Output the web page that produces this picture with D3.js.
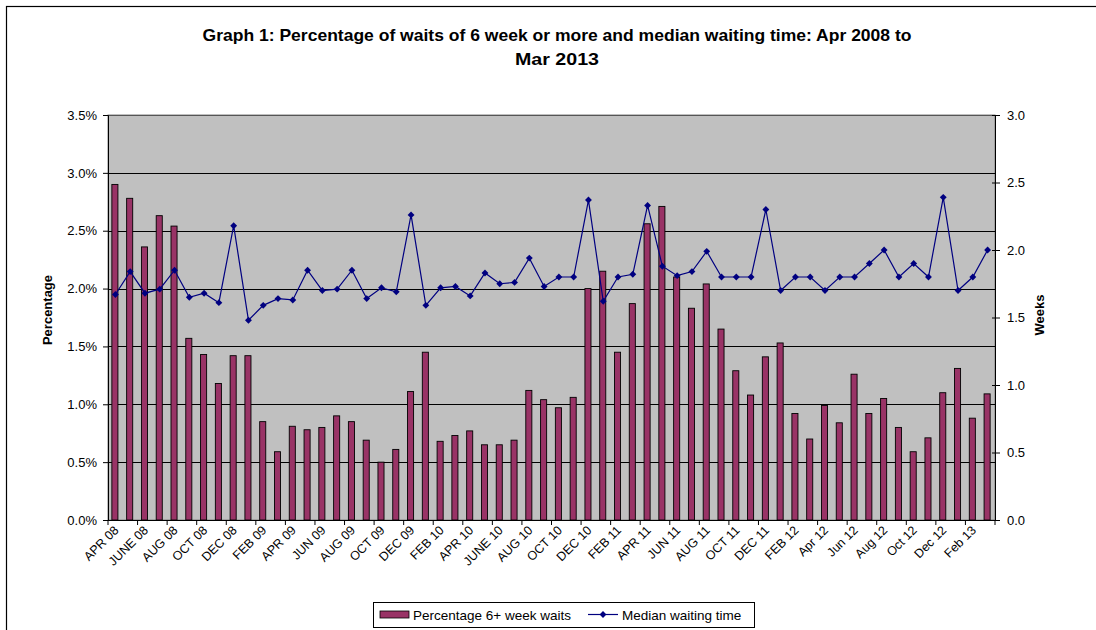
<!DOCTYPE html>
<html>
<head>
<meta charset="utf-8">
<script src="https://cdn.jsdelivr.net/npm/d3@7"></script>
<style>
  html, body { margin: 0; padding: 0; background: #fff; }
  svg { display: block; font-family: "Liberation Sans", Arial, sans-serif; }
</style>
</head>
<body>
<svg id="chart" width="1096" height="630"></svg>
<script>
const months = [
  "APR 08","MAY 08","JUNE 08","JUL 08","AUG 08","SEP 08","OCT 08","NOV 08","DEC 08","JAN 09",
  "FEB 09","MAR 09","APR 09","MAY 09","JUN 09","JUL 09","AUG 09","SEP 09","OCT 09","NOV 09",
  "DEC 09","JAN 10","FEB 10","MAR 10","APR 10","MAY 10","JUNE 10","JUL 10","AUG 10","SEP 10",
  "OCT 10","NOV 10","DEC 10","JAN 11","FEB 11","MAR 11","APR 11","MAY 11","JUN 11","JUL 11",
  "AUG 11","SEP 11","OCT 11","NOV 11","DEC 11","JAN 12","FEB 12","Mar 12","Apr 12","May 12",
  "Jun 12","Jul 12","Aug 12","Sep 12","Oct 12","Nov 12","Dec 12","Jan 13","Feb 13","Mar 13"
];
const tickLabels = [
  "APR 08","JUNE 08","AUG 08","OCT 08","DEC 08","FEB 09","APR 09","JUN 09","AUG 09","OCT 09",
  "DEC 09","FEB 10","APR 10","JUNE 10","AUG 10","OCT 10","DEC 10","FEB 11","APR 11","JUN 11",
  "AUG 11","OCT 11","DEC 11","FEB 12","Apr 12","Jun 12","Aug 12","Oct 12","Dec 12","Feb 13"
];
// Percentage of waits of 6 weeks or more (%)
const pctWaits = [
  2.90,2.78,2.36,2.63,2.54,1.57,1.43,1.18,1.42,1.42,
  0.85,0.59,0.81,0.78,0.80,0.90,0.85,0.69,0.50,0.61,
  1.11,1.45,0.68,0.73,0.77,0.65,0.65,0.69,1.12,1.04,
  0.97,1.06,2.00,2.15,1.45,1.87,2.56,2.71,2.10,1.83,
  2.04,1.65,1.29,1.08,1.41,1.53,0.92,0.70,0.99,0.84,
  1.26,0.92,1.05,0.80,0.59,0.71,1.10,1.31,0.88,1.09
];
// Median waiting time (weeks)
const medianWeeks = [
  1.67,1.84,1.68,1.71,1.85,1.65,1.68,1.61,2.18,1.48,
  1.59,1.64,1.63,1.85,1.70,1.71,1.85,1.64,1.72,1.69,
  2.26,1.59,1.72,1.73,1.66,1.83,1.75,1.76,1.94,1.73,
  1.80,1.80,2.37,1.62,1.80,1.82,2.33,1.88,1.81,1.84,
  1.99,1.80,1.80,1.80,2.30,1.70,1.80,1.80,1.70,1.80,
  1.80,1.90,2.00,1.80,1.90,1.80,2.39,1.70,1.80,2.00
];
const leftTicks = [0,0.5,1.0,1.5,2.0,2.5,3.0,3.5];
const rightTicks = [0,0.5,1.0,1.5,2.0,2.5,3.0];

const svg = d3.select("#chart");
const L = 108, R = 995, T = 115, B = 520;

// outer frame
svg.append("rect").attr("x",6.5).attr("y",6.5).attr("width",1100).attr("height",640)
  .attr("fill","none").attr("stroke","#000").attr("stroke-width",1.2);

const x = d3.scaleBand().domain(months).range([L,R]).padding(0);
const yL = d3.scaleLinear().domain([0,3.5]).range([B,T]);
const yR = d3.scaleLinear().domain([0,3.0]).range([B,T]);

// plot area
svg.append("rect").attr("x",L).attr("y",T).attr("width",R-L).attr("height",B-T)
  .attr("fill","#C0C0C0").attr("stroke","#808080").attr("stroke-width",1);

// gridlines
svg.append("g").selectAll("line").data(leftTicks.filter(d=>d>0 && d<3.5)).join("line")
  .attr("x1",L).attr("x2",R).attr("y1",d=>Math.round(yL(d))+0.5).attr("y2",d=>Math.round(yL(d))+0.5)
  .attr("stroke","#000").attr("stroke-width",1);
svg.append("line").attr("x1",L).attr("x2",R).attr("y1",T+0.5).attr("y2",T+0.5)
  .attr("stroke","#555").attr("stroke-width",1.2);

// bars
const bw = x.bandwidth()*0.41;
svg.append("g").selectAll("rect").data(pctWaits).join("rect")
  .attr("x",(d,i)=>x(months[i]) + (x.bandwidth()-bw)/2 - 0.5)
  .attr("y",d=>yL(d))
  .attr("width",bw)
  .attr("height",d=>B-yL(d))
  .attr("fill","#993366").attr("stroke","#000").attr("stroke-width",0.9);

// line
const line = d3.line().x((d,i)=>x(months[i])+x.bandwidth()/2).y(d=>yR(d));
svg.append("path").datum(medianWeeks).attr("d",line)
  .attr("fill","none").attr("stroke","#000080").attr("stroke-width",1.2);
svg.append("g").selectAll("path").data(medianWeeks).join("path")
  .attr("d",d3.symbol(d3.symbolDiamond2, 30))
  .attr("transform",(d,i)=>`translate(${x(months[i])+x.bandwidth()/2},${yR(d)})`)
  .attr("fill","#000080");

// left axis
const axL = d3.axisLeft(yL).tickValues(leftTicks).tickFormat(d=>d.toFixed(1)+"%").tickSize(5).tickPadding(6);
const gL = svg.append("g").attr("transform",`translate(${L},0)`).call(axL);
gL.select(".domain").attr("stroke","#000");
gL.selectAll("text").attr("font-size",13).attr("fill","#000").attr("font-family","Liberation Sans, Arial, sans-serif");

// right axis
const axR = d3.axisRight(yR).tickValues(rightTicks).tickFormat(d=>d.toFixed(1)).tickSize(5).tickPadding(7);
const gR = svg.append("g").attr("transform",`translate(${R},0)`).call(axR);
gR.select(".domain").attr("stroke","#000");
gR.selectAll(".tick line").attr("x1",-3);
gR.selectAll("text").attr("font-size",13).attr("fill","#000").attr("font-family","Liberation Sans, Arial, sans-serif");

// bottom axis
svg.append("line").attr("x1",L).attr("x2",R+5).attr("y1",B+0.5).attr("y2",B+0.5).attr("stroke","#000");
const tickPos = months.filter((m,i)=>i%2===0).map(m=>x(m)).concat([R]);
svg.append("g").selectAll("line").data(tickPos).join("line")
  .attr("x1",d=>d).attr("x2",d=>d).attr("y1",B).attr("y2",B+5).attr("stroke","#000");
svg.append("g").selectAll("text").data(tickLabels).join("text")
  .attr("transform",(d,i)=>`translate(${x(months[i*2])+x.bandwidth()/2+4},${B+11}) rotate(-45)`)
  .attr("text-anchor","end").attr("font-size",12.5).attr("fill","#000")
  .text(d=>d);

// axis titles
svg.append("text").attr("transform","translate(52,310) rotate(-90)")
  .attr("text-anchor","middle").attr("font-weight","bold").attr("font-size",13).text("Percentage");
svg.append("text").attr("transform","translate(1044,315) rotate(-90)")
  .attr("text-anchor","middle").attr("font-weight","bold").attr("font-size",13).text("Weeks");

// title
svg.append("text").attr("x",557).attr("y",41).attr("text-anchor","middle")
  .attr("font-weight","bold").attr("font-size",17)
  .attr("textLength",709).attr("lengthAdjust","spacingAndGlyphs")
  .text("Graph 1: Percentage of waits of 6 week or more and median waiting time: Apr 2008 to");
svg.append("text").attr("x",557).attr("y",65).attr("text-anchor","middle")
  .attr("font-weight","bold").attr("font-size",17)
  .attr("textLength",84).attr("lengthAdjust","spacingAndGlyphs")
  .text("Mar 2013");

// legend
const lg = svg.append("g");
lg.append("rect").attr("x",373.5).attr("y",602.5).attr("width",381).attr("height",25)
  .attr("fill","#fff").attr("stroke","#000");
lg.append("rect").attr("x",380).attr("y",611).attr("width",29).attr("height",7)
  .attr("fill","#993366").attr("stroke","#000").attr("stroke-width",0.8);
lg.append("text").attr("x",413).attr("y",619.5).attr("font-size",13.5).text("Percentage 6+ week waits");
lg.append("line").attr("x1",588).attr("x2",618).attr("y1",614.5).attr("y2",614.5).attr("stroke","#000080").attr("stroke-width",1.2);
lg.append("path").attr("d",d3.symbol(d3.symbolDiamond2,30)).attr("transform","translate(603,614.5)").attr("fill","#000080");
lg.append("text").attr("x",622).attr("y",619.5).attr("font-size",13.5).text("Median waiting time");
</script>
</body>
</html>
